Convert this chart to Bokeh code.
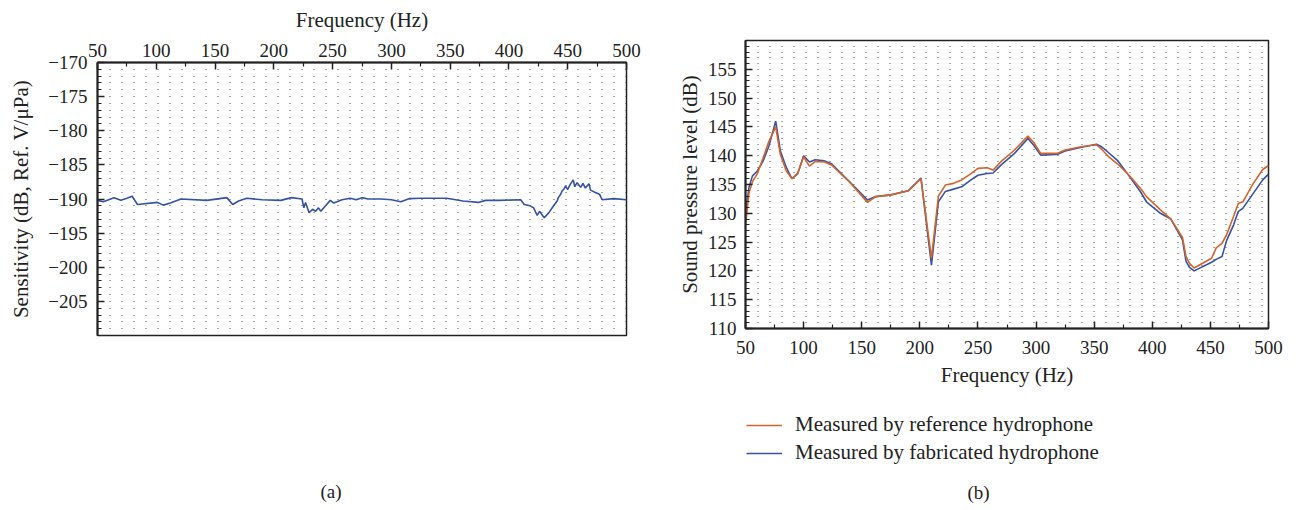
from bokeh.plotting import figure
from bokeh.models import (FixedTicker, SingleIntervalTicker, Range1d, Legend,
                          LegendItem, Title, Label)
from bokeh.layouts import row, column
from bokeh.embed import file_html
from bokeh.resources import INLINE

FONT = "Liberation Serif"
BLUE = "#3652a6"
ORANGE = "#d2642c"

# ---- panel (a): sensitivity of fabricated hydrophone ----
freq_a = [50, 55, 64, 70, 75, 79.5, 84, 101, 106, 112, 121, 143, 160, 165, 170,
          177, 190, 206, 215, 224, 225.5, 227, 230, 233, 235.5, 238, 240, 244,
          248, 251, 258, 265, 270, 275, 280, 291, 300, 308, 315, 325, 347, 361,
          374, 380, 392, 410, 413, 418, 421, 424, 426, 430, 434, 438, 441, 442,
          444, 445.3, 447, 448, 450, 452, 454.7, 456, 458, 461, 463, 465, 468,
          469.4, 473, 477, 479.3, 489, 500]
sens_a = [-190.2, -190.4, -189.8, -190.2, -189.9, -189.6, -190.8, -190.5, -190.9,
          -190.6, -190.0, -190.2, -189.8, -190.8, -190.3, -189.9, -190.1, -190.2,
          -189.8, -190.0, -191.3, -190.5, -192.0, -191.5, -191.8, -191.3, -191.8,
          -191.0, -190.2, -190.6, -190.1, -189.9, -190.1, -189.8, -190.0, -190.0,
          -190.1, -190.4, -189.95, -189.9, -189.9, -190.3, -190.5, -190.2, -190.2,
          -190.1, -190.8, -191.0, -191.3, -192.4, -191.8, -192.75, -192.0, -191.0,
          -190.3, -189.8, -189.3, -188.8, -188.5, -188.1, -188.6, -187.9, -187.2,
          -188.2, -187.6, -188.3, -187.7, -188.4, -187.75, -188.7, -189.0, -189.3,
          -190.1, -189.95, -190.1]

# ---- panel (b): sound pressure level ----
freq_b = [50, 53, 56, 60, 65, 70, 76, 80, 85, 90, 95, 100, 105, 110, 118, 124,
          140, 155, 162, 175, 190, 201, 210, 216, 222, 229, 236, 244, 250, 258,
          263, 270, 281, 293, 298, 304, 318, 325, 340, 352, 356, 362, 370, 380,
          390, 395, 407, 416, 426, 429, 432, 436, 451, 455, 460, 464, 470, 474,
          478, 486, 495, 500]
spl_ref = [128.0, 133.5, 135.5, 136.8, 139.5, 142.4, 145.0, 140.2, 137.4, 136.0,
           137.0, 139.8, 138.2, 139.0, 138.9, 138.4, 135.3, 131.9, 132.9, 133.2,
           133.9, 136.0, 122.2, 133.0, 134.9, 135.2, 135.8, 136.9, 137.8, 137.9,
           137.5, 139.0, 140.9, 143.4, 142.3, 140.4, 140.4, 141.0, 141.6, 141.9,
           141.2, 139.9, 138.6, 136.6, 134.3, 132.9, 130.6, 129.0, 125.8, 122.5,
           121.3, 120.5, 122.2, 124.0, 124.8, 126.3, 129.5, 131.7, 132.0, 134.9,
           137.6, 138.3]
spl_fab = [130.0, 134.5, 136.5, 137.3, 139.0, 141.6, 146.0, 140.8, 138.0, 136.0,
           136.9, 140.0, 138.9, 139.3, 139.1, 138.6, 135.4, 132.3, 132.9, 133.2,
           133.9, 136.1, 121.0, 132.0, 133.8, 134.2, 134.6, 135.8, 136.6, 136.9,
           137.0, 138.4, 140.3, 143.0, 141.8, 140.1, 140.2, 140.8, 141.5, 142.0,
           141.6, 140.6, 139.2, 136.5, 133.7, 132.0, 130.0, 129.0, 125.4, 121.7,
           120.6, 120.0, 121.5, 122.0, 122.5, 125.3, 128.0, 130.3, 130.9, 133.2,
           135.8, 136.8]

x_ticks = [50, 100, 150, 200, 250, 300, 350, 400, 450, 500]
x_minor = [75, 125, 175, 225, 275, 325, 375, 425, 475]
y_ticks_a = [-205, -200, -195, -190, -185, -180, -175, -170]
y_minor_a = list(range(-210, -169))
y_ticks_b = [110, 115, 120, 125, 130, 135, 140, 145, 150, 155]
y_minor_b = list(range(110, 161))

TICK_SIZE = "19px"
TITLE_SIZE = "21px"


def style_axis(ax):
    ax.axis_label_text_font = FONT
    ax.axis_label_text_font_style = "normal"
    ax.axis_label_text_font_size = TITLE_SIZE
    ax.axis_label_text_color = "#222222"
    ax.major_label_text_font = FONT
    ax.major_label_text_font_size = TICK_SIZE
    ax.major_label_text_color = "#222222"
    ax.axis_line_width = 2
    ax.axis_line_color = "#222222"
    ax.major_tick_in = 7
    ax.major_tick_out = 0
    ax.minor_tick_in = 4
    ax.minor_tick_out = 0
    ax.major_tick_line_width = 1.5
    ax.minor_tick_line_width = 1.2
    ax.major_tick_line_color = "#222222"
    ax.minor_tick_line_color = "#222222"


def style_grid(p, dash):
    p.xgrid.visible = False
    p.ygrid.ticker = SingleIntervalTicker(interval=1)
    p.ygrid.grid_line_dash = dash
    p.ygrid.grid_line_color = "#333333"
    p.ygrid.grid_line_width = 1.2
    p.ygrid.grid_line_alpha = 0.85
    p.outline_line_color = "#222222"
    p.outline_line_width = 1.5
    p.outline_line_alpha = 1.0


def caption_title(text, offset, standoff, valign="middle", size="19px"):
    return Title(text=text, align="left", offset=offset, standoff=standoff,
                 vertical_align=valign, text_font=FONT, text_font_size=size,
                 text_font_style="normal", text_color="#222222")


# ---------------- left figure ----------------
p1 = figure(frame_width=529, frame_height=273, title=None,
            x_range=Range1d(50, 500), y_range=Range1d(-210, -170),
            x_axis_location="above", output_backend="svg", toolbar_location=None,
            min_border_left=97, min_border_top=62, min_border_right=48,
            min_border_bottom=175)
p1.line(freq_a, sens_a, line_color=BLUE, line_width=1.6)
p1.xaxis.ticker = FixedTicker(ticks=x_ticks, minor_ticks=x_minor)
p1.yaxis.ticker = FixedTicker(ticks=y_ticks_a, minor_ticks=y_minor_a)
p1.xaxis.axis_label = "Frequency (Hz)"
p1.yaxis.axis_label = "Sensitivity (dB, Ref. V/\u03bcPa)"
p1.yaxis.major_label_overrides = {v: "\u2212" + str(abs(v)) for v in y_ticks_a}
style_axis(p1.xaxis[0])
style_axis(p1.yaxis[0])
p1.xaxis.major_label_standoff = 6
p1.xaxis.axis_label_standoff = 9
p1.yaxis.major_label_standoff = 10
p1.yaxis.axis_label_standoff = 12
style_grid(p1, "1 11")
# spacer + caption below the frame
p1.add_layout(caption_title(" ", 0, 121), "below")
p1.add_layout(caption_title("(a)", 223, 0), "below")

# ---------------- right figure ----------------
p2 = figure(frame_width=523, frame_height=288, title=None,
            x_range=Range1d(50, 500), y_range=Range1d(110, 160),
            output_backend="svg", toolbar_location=None,
            min_border_left=68, min_border_top=40, min_border_right=31,
            min_border_bottom=66)
p2.line(freq_b, spl_fab, line_color=BLUE, line_width=1.6)
p2.line(freq_b, spl_ref, line_color=ORANGE, line_width=1.6)
p2.xaxis.ticker = FixedTicker(ticks=x_ticks, minor_ticks=x_minor)
p2.yaxis.ticker = FixedTicker(ticks=y_ticks_b, minor_ticks=y_minor_b)
p2.xaxis.axis_label = "Frequency (Hz)"
p2.yaxis.axis_label = "Sound pressure level (dB)"
style_axis(p2.xaxis[0])
style_axis(p2.yaxis[0])
p2.xaxis.major_label_standoff = 12
p2.xaxis.axis_label_standoff = 6
p2.yaxis.major_label_standoff = 9
p2.yaxis.axis_label_standoff = 3
style_grid(p2, "1 11")

# ---------------- legend + caption strip under panel (b) ----------------
p3 = figure(width=622, height=116, title=None, x_axis_type=None, y_axis_type=None,
            x_range=Range1d(0, 1), y_range=Range1d(0, 1), min_border=0,
            output_backend="svg", toolbar_location=None)
p3.outline_line_color = None
# series drawn again here only so the legend can show their line styles;
# they fall outside this strip's ranges and are clipped away
l_ref = p3.line(freq_b, spl_ref, line_color=ORANGE, line_width=1.6)
l_fab = p3.line(freq_b, spl_fab, line_color=BLUE, line_width=1.6)
legend = Legend(items=[LegendItem(label="Measured by reference hydrophone", renderers=[l_ref]),
                       LegendItem(label="Measured by fabricated hydrophone", renderers=[l_fab])],
                location=(1, 45), orientation="vertical",
                border_line_color=None, background_fill_alpha=0,
                label_text_font=FONT, label_text_font_size=TITLE_SIZE,
                label_text_color="#222222",
                glyph_width=36, glyph_height=20, label_standoff=13,
                spacing=3, padding=4, margin=0)
p3.add_layout(legend)
p3.add_layout(Label(x=233, y=18, x_units="screen", y_units="screen", text="(b)",
                    text_align="center", text_baseline="middle",
                    text_font=FONT, text_font_size="19px", text_color="#222222"))

layout = row(column(p1), column(p2, p3))
open("out.html", "w").write(file_html(layout, INLINE))
